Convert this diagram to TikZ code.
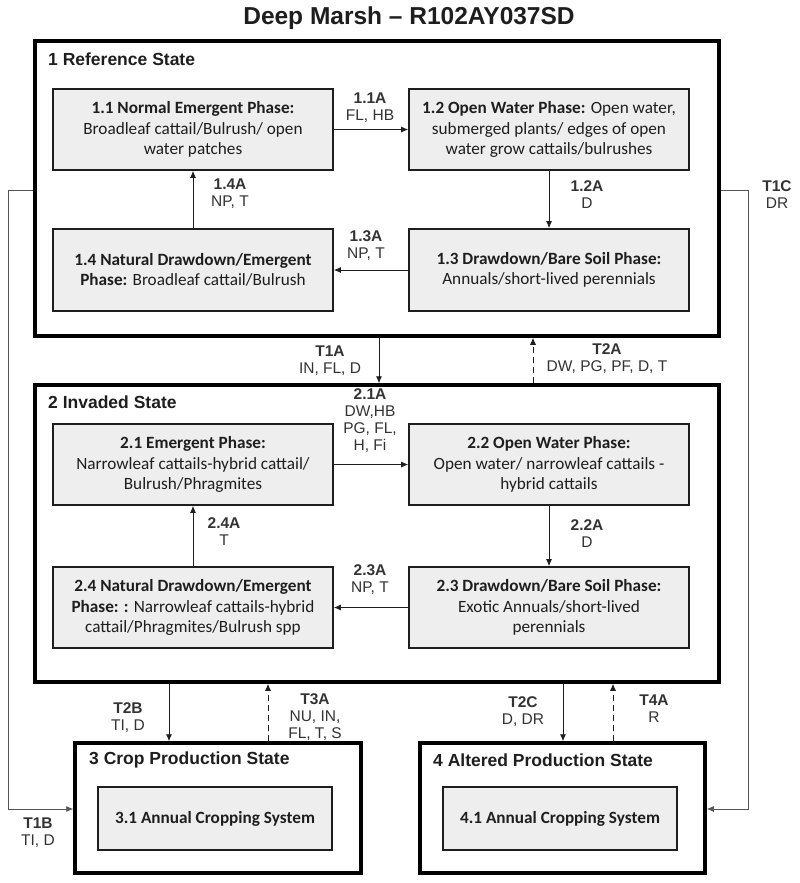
\documentclass[tikz,border=0pt]{standalone}
\usepackage{fontspec}
\setmainfont{Carlito}
\newfontfamily\arial{Liberation Sans}
\usetikzlibrary{arrows.meta}
\definecolor{boxfill}{HTML}{EEEEEE}
\definecolor{ink}{HTML}{1E1E1E}
\definecolor{labelink}{HTML}{333333}
\definecolor{linegray}{HTML}{555555}
\begin{document}
\begin{tikzpicture}[x=1pt,y=-1pt,
  phase/.style={draw=ink,fill=boxfill,line width=1.6pt,align=center,inner sep=1pt,
    font=\fontsize{17.2}{20.5}\selectfont,text=ink},
  statebox/.style={draw=black,line width=3.5pt,inner sep=0pt},
  statelbl/.style={anchor=west,font=\arial\bfseries\fontsize{17.5}{20}\selectfont,inner sep=0pt,text=ink},
  trlbl/.style={align=center,font=\arial\fontsize{15.5}{17}\selectfont,text=labelink,inner sep=0pt},
  arr/.style={-{Latex[length=7pt,width=6pt]},line width=0.9pt,draw=ink},
  darr/.style={arr,dash pattern=on 6pt off 4pt},
  garr/.style={arr,draw=linegray}]
\useasboundingbox (0,0) rectangle (800,883);

\node[font=\arial\bfseries\fontsize{24.5}{28}\selectfont,text=ink] (title) at (409,18) {Deep Marsh – R102AY037SD};

% state boxes
\node[statebox,minimum width=684pt,minimum height=295pt] (s1) at (377,188.5) {};
\node[statebox,minimum width=684pt,minimum height=297pt] (s2) at (377,533.5) {};
\node[statebox,minimum width=286pt,minimum height=130pt] (s3) at (218,808) {};
\node[statebox,minimum width=285pt,minimum height=130pt] (s4) at (562.5,808) {};

\node[statelbl] (s1l) at (48,59) {1 Reference State};
\node[statelbl] (s2l) at (48,402) {2 Invaded State};
\node[statelbl] (s3l) at (89,760) {3 Crop Production State};
\node[statelbl] (s4l) at (433,760) {4 Altered Production State};

% phases state 1
\node[phase,minimum width=280pt,minimum height=81pt] (p11) at (193,129.5)
  {\textbf{1.1 Normal Emergent Phase:}\\Broadleaf cattail/Bulrush/ open\\water patches};
\node[phase,minimum width=280pt,minimum height=81pt] (p12) at (549,129.5)
  {\textbf{1.2 Open Water Phase:} Open water,\\submerged plants/ edges of open\\water grow cattails/bulrushes};
\node[phase,minimum width=280pt,minimum height=82pt] (p14) at (193,270)
  {\textbf{1.4 Natural Drawdown/Emergent}\\\textbf{Phase:} Broadleaf cattail/Bulrush};
\node[phase,minimum width=280pt,minimum height=82pt] (p13) at (549,270)
  {\textbf{1.3 Drawdown/Bare Soil Phase:}\\Annuals/short-lived perennials};

% phases state 2
\node[phase,minimum width=280pt,minimum height=81pt] (p21) at (193,464.5)
  {\textbf{2.1 Emergent Phase:}\\Narrowleaf cattails-hybrid cattail/\\Bulrush/Phragmites};
\node[phase,minimum width=280pt,minimum height=81pt] (p22) at (549,464.5)
  {\textbf{2.2 Open Water Phase:}\\Open water/ narrowleaf cattails -\\hybrid cattails};
\node[phase,minimum width=280pt,minimum height=81pt] (p24) at (193,607.5)
  {\textbf{2.4 Natural Drawdown/Emergent}\\\textbf{Phase: :} Narrowleaf cattails-hybrid\\cattail/Phragmites/Bulrush spp};
\node[phase,minimum width=280pt,minimum height=81pt] (p23) at (549,607.5)
  {\textbf{2.3 Drawdown/Bare Soil Phase:}\\Exotic Annuals/short-lived\\perennials};

% phases states 3,4
\node[phase,minimum width=234pt,minimum height=63pt] (p31) at (215,818.5) {\textbf{3.1 Annual Cropping System}};
\node[phase,minimum width=234pt,minimum height=63pt] (p41) at (560,818.5) {\textbf{4.1 Annual Cropping System}};

% community pathways
\draw[arr] (p11.east) -- (p12.west);
\draw[arr] (p12.south) -- (p13.north);
\draw[arr] (p13.west) -- (p14.east);
\draw[arr] (p14.north) -- (p11.south);
\draw[arr] (p21.east) -- (p22.west);
\draw[arr] (p22.south) -- (p23.north);
\draw[arr] (p23.west) -- (p24.east);
\draw[arr] (p24.north) -- (p21.south);

\node[trlbl] (l11a) at (370,108) {\textbf{1.1A}\\FL, HB};
\node[trlbl] (l14a) at (230,194) {\textbf{1.4A}\\NP, T};
\node[trlbl] (l12a) at (587,195) {\textbf{1.2A}\\D};
\node[trlbl] (l13a) at (366,246) {\textbf{1.3A}\\NP, T};
\node[trlbl] (l21a) at (370,421) {\textbf{2.1A}\\DW,HB\\PG, FL,\\H, Fi};
\node[trlbl] (l24a) at (224,532) {\textbf{2.4A}\\T};
\node[trlbl] (l22a) at (587,534) {\textbf{2.2A}\\D};
\node[trlbl] (l23a) at (370,580) {\textbf{2.3A}\\NP, T};

% transitions
\coordinate (xT1A) at (379,0);
\coordinate (xT2A) at (533,0);
\coordinate (xT2B) at (169,0);
\coordinate (xT3A) at (268,0);
\coordinate (xT2C) at (563,0);
\coordinate (xT4A) at (613,0);
\coordinate (bl1) at (8,190);
\coordinate (bl2) at (8,809);
\coordinate (br1) at (748,190);
\coordinate (br2) at (748,809);

\draw[arr] (s1.south -| xT1A) -- (s2.north -| xT1A);
\draw[darr] (s2.north -| xT2A) -- (s1.south -| xT2A);
\draw[arr] (s2.south -| xT2B) -- (s3.north -| xT2B);
\draw[darr] (s3.north -| xT3A) -- (s2.south -| xT3A);
\draw[arr] (s2.south -| xT2C) -- (s4.north -| xT2C);
\draw[darr] (s4.north -| xT4A) -- (s2.south -| xT4A);
\draw[garr] (s1.west |- bl1) -- (bl1) -- (bl2) -- (s3.west |- bl2);
\draw[garr] (s1.east |- br1) -- (br1) -- (br2) -- (s4.east |- br2);

\node[trlbl] (lT1A) at (330,361) {\textbf{T1A}\\IN, FL, D};
\node[trlbl] (lT2A) at (607,359) {\textbf{T2A}\\DW, PG, PF, D, T};
\node[trlbl] (lT1C) at (777,195) {\textbf{T1C}\\DR};
\node[trlbl] (lT1B) at (38,833) {\textbf{T1B}\\TI, D};
\node[trlbl] (lT2B) at (128,718) {\textbf{T2B}\\TI, D};
\node[trlbl] (lT3A) at (315,717) {\textbf{T3A}\\NU, IN,\\FL, T, S};
\node[trlbl] (lT2C) at (523,712) {\textbf{T2C}\\D, DR};
\node[trlbl] (lT4A) at (654,709) {\textbf{T4A}\\R};
\end{tikzpicture}
\end{document}
